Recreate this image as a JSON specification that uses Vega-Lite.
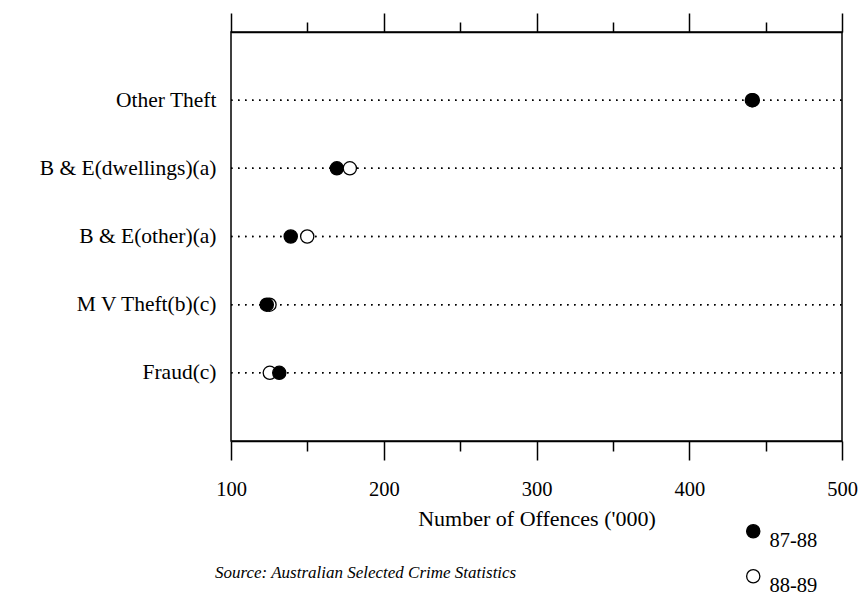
{
  "$schema": "https://vega.github.io/schema/vega-lite/v6.json",
  "width": 611,
  "height": 409,
  "autosize": {"type": "none"},
  "padding": {"left": 231, "top": 32, "right": 18, "bottom": 155},
  "background": "white",
  "config": {
    "font": "Liberation Serif",
    "view": {"stroke": "black", "strokeWidth": 1.5},
    "axis": {
      "labelColor": "black",
      "titleColor": "black",
      "domainColor": "black",
      "tickColor": "black",
      "domainWidth": 1.5,
      "tickWidth": 1.5,
      "grid": false,
      "labelFont": "Liberation Serif",
      "titleFont": "Liberation Serif"
    },
    "legend": {"labelFont": "Liberation Serif"},
    "title": {"font": "Liberation Serif"}
  },
  "title": {
    "text": "Source: Australian Selected Crime Statistics",
    "orient": "bottom",
    "anchor": "start",
    "frame": "group",
    "fontStyle": "italic",
    "fontWeight": "normal",
    "fontSize": 17,
    "color": "black",
    "dx": -16,
    "offset": -32
  },
  "data": {
    "values": [
      {"offence": "Other Theft", "year": "88-89", "value": 441},
      {"offence": "Other Theft", "year": "87-88", "value": 441.6},
      {"offence": "B & E(dwellings)(a)", "year": "87-88", "value": 169.3},
      {"offence": "B & E(dwellings)(a)", "year": "88-89", "value": 177.8},
      {"offence": "B & E(other)(a)", "year": "88-89", "value": 149.9},
      {"offence": "B & E(other)(a)", "year": "87-88", "value": 139.1},
      {"offence": "M V Theft(b)(c)", "year": "88-89", "value": 125.2},
      {"offence": "M V Theft(b)(c)", "year": "87-88", "value": 123.4},
      {"offence": "Fraud(c)", "year": "88-89", "value": 125.4},
      {"offence": "Fraud(c)", "year": "87-88", "value": 131.6}
    ]
  },
  "resolve": {"axis": {"x": "independent"}},
  "layer": [
    {
      "mark": {"type": "rule", "color": "black", "strokeWidth": 1.5, "strokeDash": [1.5, 5.5]},
      "encoding": {
        "y": {
          "field": "offence",
          "type": "nominal",
          "sort": null,
          "scale": {"type": "point", "padding": 1, "align": 0.5},
          "axis": {
            "title": null,
            "ticks": false,
            "domain": false,
            "labelFontSize": 21.5,
            "labelPadding": 15
          }
        },
        "x": {
          "datum": 100,
          "type": "quantitative",
          "scale": {"domain": [100, 500], "nice": false, "zero": false},
          "axis": {
            "orient": "top",
            "values": [100, 150, 200, 250, 300, 350, 400, 450, 500],
            "labels": false,
            "title": null,
            "tickSize": {"condition": {"test": "datum.value % 100 === 0", "value": 19}, "value": 10}
          }
        },
        "x2": {"datum": 500}
      }
    },
    {
      "mark": {"type": "circle", "size": 175, "stroke": "black", "strokeWidth": 1.3, "opacity": 1},
      "encoding": {
        "y": {"field": "offence", "type": "nominal", "sort": null},
        "x": {
          "field": "value",
          "type": "quantitative",
          "axis": {
            "orient": "bottom",
            "values": [100, 150, 200, 250, 300, 350, 400, 450, 500],
            "labelExpr": "datum.value % 100 === 0 ? datum.label : ''",
            "labelFlush": false,
            "labelFontSize": 20.5,
            "labelPadding": 19,
            "tickSize": {"condition": {"test": "datum.value % 100 === 0", "value": 19}, "value": 10},
            "title": "Number of Offences ('000)",
            "titleFontSize": 22,
            "titleFontWeight": "normal",
            "titlePadding": 9
          }
        },
        "fill": {
          "field": "year",
          "type": "nominal",
          "scale": {"domain": ["87-88", "88-89"], "range": ["black", "white"]},
          "legend": {
            "title": null,
            "orient": "none",
            "legendX": 512,
            "legendY": 489,
            "padding": 0,
            "symbolType": "circle",
            "symbolSize": 175,
            "symbolStrokeColor": "black",
            "symbolStrokeWidth": 1.3,
            "symbolOpacity": 1,
            "labelFontSize": 20.5,
            "labelColor": "black",
            "labelBaseline": "top",
            "labelOffset": 6,
            "rowPadding": 14
          }
        }
      }
    }
  ]
}
